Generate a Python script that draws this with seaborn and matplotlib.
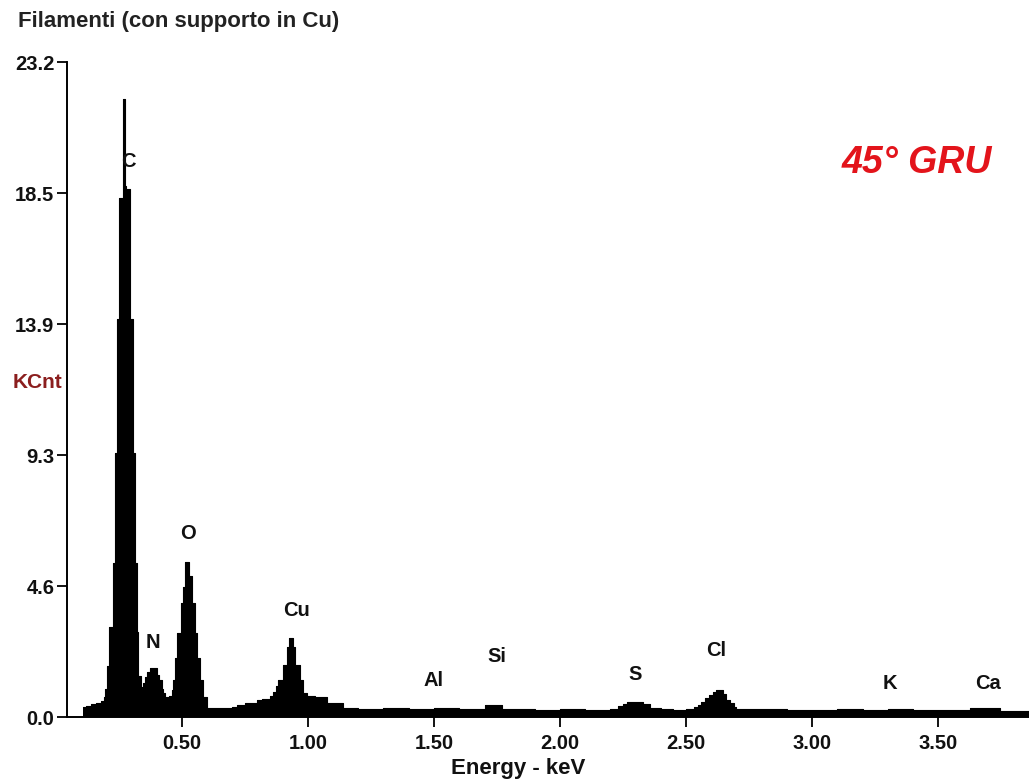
import matplotlib
matplotlib.use("Agg")
import matplotlib.pyplot as plt
import matplotlib.font_manager as fm
import seaborn as sns

# EDS spectrum: channel start (keV) -> KCnt (step-post)
energy_kev = [0.110, 0.120, 0.140, 0.160, 0.180, 0.190, 0.196, 0.203, 0.212, 0.226,
              0.2355, 0.242, 0.2526, 0.266, 0.268, 0.274, 0.278, 0.295, 0.308, 0.315,
              0.3216, 0.328, 0.338, 0.345, 0.354, 0.364, 0.375, 0.402, 0.410, 0.420,
              0.427, 0.434, 0.450, 0.462, 0.467, 0.473, 0.480, 0.496, 0.506, 0.513,
              0.528, 0.542, 0.553, 0.559, 0.572, 0.586, 0.599, 0.660, 0.700, 0.718,
              0.750, 0.797, 0.820, 0.850, 0.860, 0.874, 0.883, 0.900, 0.916, 0.925,
              0.941, 0.949, 0.969, 0.980, 0.996, 1.030, 1.075, 1.140, 1.200, 1.300,
              1.400, 1.500, 1.600, 1.703, 1.769, 1.850, 1.900, 2.000, 2.100, 2.200,
              2.230, 2.250, 2.265, 2.330, 2.357, 2.400, 2.450, 2.500, 2.530, 2.548,
              2.560, 2.575, 2.590, 2.605, 2.620, 2.645, 2.660, 2.675, 2.690, 2.700,
              2.750, 2.800, 2.900, 3.000, 3.100, 3.200, 3.300, 3.400, 3.500, 3.600,
              3.626, 3.745, 3.800, 3.860]
kcnt = [0.36, 0.40, 0.45, 0.50, 0.58, 0.70, 1.00, 1.80, 3.19, 5.46,
        9.35, 14.10, 18.40, 18.80, 21.90, 18.80, 18.70, 14.10, 9.35, 5.46,
        3.00, 1.45, 1.05, 1.20, 1.43, 1.60, 1.73, 1.50, 1.30, 1.00,
        0.85, 0.72, 0.75, 0.95, 1.30, 2.10, 2.97, 4.04, 4.60, 5.50,
        5.00, 4.04, 2.97, 2.10, 1.30, 0.70, 0.33, 0.32, 0.36, 0.42,
        0.50, 0.60, 0.65, 0.75, 0.90, 1.10, 1.31, 1.84, 2.49, 2.79,
        2.49, 1.84, 1.31, 0.84, 0.74, 0.72, 0.50, 0.33, 0.30, 0.31,
        0.30, 0.32, 0.30, 0.42, 0.30, 0.27, 0.25, 0.28, 0.26, 0.30,
        0.38, 0.45, 0.54, 0.45, 0.33, 0.28, 0.26, 0.30, 0.35, 0.42,
        0.55, 0.68, 0.78, 0.88, 0.96, 0.80, 0.62, 0.48, 0.36, 0.28,
        0.30, 0.27, 0.26, 0.25, 0.27, 0.25, 0.28, 0.26, 0.24, 0.26,
        0.33, 0.22, 0.20, 0.20]

peak_names = ["C", "N", "O", "Cu", "Al", "Si", "S", "Cl", "K", "Ca"]
peak_kev = [0.288, 0.387, 0.524, 0.956, 1.498, 1.749, 2.297, 2.621, 3.308, 3.698]
peak_label_y = [19.66, 2.63, 6.50, 3.77, 1.31, 2.14, 1.49, 2.37, 1.19, 1.19]

x_ticks = [0.5, 1.0, 1.5, 2.0, 2.5, 3.0, 3.5]
x_tick_labels = ["0.50", "1.00", "1.50", "2.00", "2.50", "3.00", "3.50"]
y_ticks = [0.0, 4.64, 9.28, 13.92, 18.56, 23.2]
y_tick_labels = ["0.0", "4.6", "9.3", "13.9", "18.5", "23.2"]

sns.set_theme(style="ticks")
plt.rcParams["font.family"] = ["Liberation Sans", "DejaVu Sans"]
plt.rcParams["font.weight"] = "bold"

names = {f.name for f in fm.fontManager.ttflist}
gru_family = "Liberation Sans Narrow" if "Liberation Sans Narrow" in names else "Liberation Sans"

fig = plt.figure(figsize=(10.29, 7.81), dpi=100)
ax = fig.add_axes([0.0651, 0.0819, 0.9349, 0.8387])

sns.lineplot(x=energy_kev, y=kcnt, drawstyle="steps-post", color="black",
             linewidth=0.8, ax=ax, legend=False)
ax.fill_between(energy_kev, kcnt, step="post", color="black", linewidth=0)

ax.set_xlim(0.045, 3.86)
ax.set_ylim(0, 23.2)
ax.set_xticks(x_ticks)
ax.set_xticklabels(x_tick_labels)
ax.set_yticks(y_ticks)
ax.set_yticklabels(y_tick_labels)
ax.tick_params(axis="both", direction="out", length=7, width=1.3, color="black",
               labelsize=14.5, labelcolor="#111111")
ax.tick_params(axis="y", pad=2)
ax.tick_params(axis="x", pad=5)
for lab in ax.get_xticklabels() + ax.get_yticklabels():
    lab.set_fontweight("bold")

sns.despine(ax=ax)
for side in ["left", "bottom"]:
    ax.spines[side].set_linewidth(1.4)
    ax.spines[side].set_color("black")

ax.set_xlabel("Energy - keV", fontsize=16, fontweight="bold", color="#111111")
ax.xaxis.set_label_coords(0.469, -0.062)
ax.set_ylabel("")

for name, xk, yk in zip(peak_names, peak_kev, peak_label_y):
    ax.text(xk, yk, name, ha="center", va="center", fontsize=14.5,
            fontweight="bold", color="#111111")

fig.text(18 / 1029, 1 - 22 / 781, "Filamenti (con supporto in Cu)", ha="left",
         va="center", fontsize=16, fontweight="bold", color="#222222")
fig.text(38 / 1029, 1 - 383 / 781, "KCnt", ha="center", va="center",
         fontsize=15, fontweight="bold", color="#8b1e1e")
fig.text(917 / 1029, 1 - 163 / 781, "45° GRU", ha="center", va="center",
         fontsize=27, fontweight="bold", fontstyle="italic", color="#e3141b",
         family=[gru_family, "DejaVu Sans"])

fig.savefig("out.png", dpi=100)
